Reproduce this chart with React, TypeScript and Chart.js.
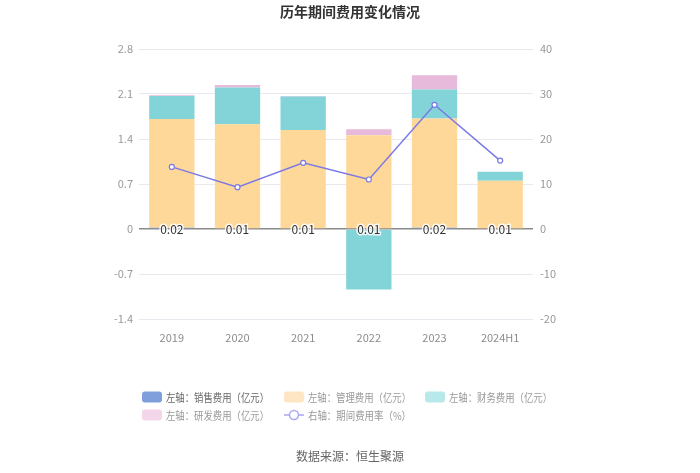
import React, { useEffect, useRef } from 'react';
import { Chart, registerables } from 'chart.js';
Chart.register(...registerables);

const categories = ['2019', '2020', '2021', '2022', '2023', '2024H1'];
const salesExpense = [0.02, 0.01, 0.01, 0.01, 0.02, 0.01];
const adminExpense = [1.69, 1.62, 1.53, 1.45, 1.7, 0.74];
const financeExpense = [0.36, 0.57, 0.52, -0.94, 0.45, 0.14];
const rdExpense = [0.01, 0.04, 0.01, 0.09, 0.22, 0.0];
const expenseRate = [13.8, 9.3, 14.7, 11.0, 27.6, 15.2];
const leftTickLabels = ['-1.4', '-0.7', '0', '0.7', '1.4', '2.1', '2.8'];
const rightTickLabels = ['-20', '-10', '0', '10', '20', '30', '40'];

const FONT = '"Noto Sans CJK SC", "Noto Sans", sans-serif';
const C_SALES = '#7e9fdb';
const C_ADMIN = '#fed898';
const C_FIN = '#83d4d8';
const C_RD = '#e7badb';
const C_LINE = '#7a79e6';

const leftVals = leftTickLabels.map(Number);
const rightVals = rightTickLabels.map(Number);

const overlayPlugin = {
  id: 'overlay',
  afterDatasetsDraw(chart: any) {
    const ctx = chart.ctx;
    const meta = chart.getDatasetMeta(0);
    const y0 = chart.scales.y.getPixelForValue(0);
    ctx.save();
    ctx.font = '12px ' + FONT;
    ctx.textAlign = 'center';
    ctx.textBaseline = 'middle';
    meta.data.forEach((bar: any, i: number) => {
      const t = salesExpense[i].toFixed(2);
      ctx.lineWidth = 3;
      ctx.strokeStyle = 'rgba(255,255,255,0.85)';
      ctx.strokeText(t, bar.x, y0);
      ctx.fillStyle = '#333';
      ctx.fillText(t, bar.x, y0);
    });
    ctx.restore();
  },
  afterDraw(chart: any) {
    const ctx = chart.ctx;
    ctx.save();
    ctx.textBaseline = 'middle';
    ctx.textAlign = 'center';
    ctx.fillStyle = '#333';
    ctx.font = 'bold 14px ' + FONT;
    ctx.fillText('历年期间费用变化情况', 350, 12);

    ctx.font = '12px ' + FONT;
    ctx.fillStyle = '#666';
    ctx.fillText('数据来源：恒生聚源', 350, 456);

    ctx.textAlign = 'left';
    ctx.font = '11px ' + FONT;
    const box = (x: number, y: number, color: string) => {
      ctx.fillStyle = color;
      ctx.beginPath();
      (ctx as any).roundRect(x, y - 5.5, 20, 11, 3);
      ctx.fill();
    };
    const items = [
      { x: 142, y: 397, color: C_SALES, text: '左轴：销售费用（亿元）', tc: '#666' },
      { x: 284, y: 397, color: '#fee5c3', text: '左轴：管理费用（亿元）', tc: '#999' },
      { x: 425, y: 397, color: '#b7e8ea', text: '左轴：财务费用（亿元）', tc: '#999' },
      { x: 142, y: 415, color: '#f3d6ea', text: '左轴：研发费用（亿元）', tc: '#999' },
    ];
    items.forEach((it) => {
      box(it.x, it.y, it.color);
      ctx.fillStyle = it.tc;
      ctx.fillText(it.text, it.x + 24, it.y + 0.5, 103);
    });
    // line legend
    ctx.strokeStyle = '#a9a8f0';
    ctx.lineWidth = 1.5;
    ctx.beginPath();
    ctx.moveTo(284, 415);
    ctx.lineTo(304, 415);
    ctx.stroke();
    ctx.beginPath();
    ctx.arc(294, 415, 4.5, 0, Math.PI * 2);
    ctx.fillStyle = '#fff';
    ctx.fill();
    ctx.stroke();
    ctx.fillStyle = '#999';
    ctx.fillText('右轴：期间费用率（%）', 308, 415.5, 103);
    ctx.restore();
  },
};

export default function App() {
  const ref = useRef<HTMLCanvasElement>(null);
  useEffect(() => {
    const chart = new Chart(ref.current as HTMLCanvasElement, {
      type: 'bar',
      data: {
        labels: categories,
        datasets: [
          { label: '左轴：销售费用（亿元）', data: salesExpense, backgroundColor: C_SALES, stack: 's', yAxisID: 'y', order: 2 },
          { label: '左轴：管理费用（亿元）', data: adminExpense, backgroundColor: C_ADMIN, stack: 's', yAxisID: 'y', order: 2 },
          { label: '左轴：财务费用（亿元）', data: financeExpense, backgroundColor: C_FIN, stack: 's', yAxisID: 'y', order: 2 },
          { label: '左轴：研发费用（亿元）', data: rdExpense, backgroundColor: C_RD, stack: 's', yAxisID: 'y', order: 2 },
          {
            type: 'line',
            label: '右轴：期间费用率（%）',
            data: expenseRate,
            yAxisID: 'y1',
            borderColor: C_LINE,
            borderWidth: 1.5,
            pointRadius: 2.5,
            pointBorderWidth: 1.2,
            pointBackgroundColor: '#fff',
            pointBorderColor: C_LINE,
            tension: 0,
            order: 1,
          } as any,
        ],
      },
      options: {
        responsive: false,
        animation: false,
        layout: { padding: { top: 49, left: 0, right: 0, bottom: 0 } },
        plugins: { legend: { display: false }, title: { display: false }, tooltip: { enabled: false } },
        datasets: { bar: { categoryPercentage: 1, barPercentage: 0.69 } } as any,
        scales: {
          x: {
            stacked: true,
            grid: { display: false },
            border: { display: false },
            ticks: { color: '#8c8c8c', font: { size: 11, family: FONT }, padding: 4 },
            afterFit(scale: any) { scale.height = 154; },
          },
          y: {
            position: 'left',
            stacked: true,
            min: -1.4,
            max: 2.8,
            afterBuildTicks(scale: any) { scale.ticks = leftVals.map((v) => ({ value: v })); },
            ticks: {
              color: '#999',
              font: { size: 11, family: FONT },
              padding: 6,
              callback: (v: any) => leftTickLabels[leftVals.indexOf(Number(v))] ?? '',
            },
            grid: {
              drawTicks: false,
              color: (c: any) => (c.tick && c.tick.value === 0 ? '#8a8a8a' : '#e9e9ef'),
              lineWidth: (c: any) => (c.tick && c.tick.value === 0 ? 1.5 : 1),
            },
            border: { display: false },
            afterFit(scale: any) { scale.width = 139; },
          },
          y1: {
            position: 'right',
            min: -20,
            max: 40,
            afterBuildTicks(scale: any) { scale.ticks = rightVals.map((v) => ({ value: v })); },
            ticks: {
              color: '#999',
              font: { size: 11, family: FONT },
              padding: 7,
              callback: (v: any) => rightTickLabels[rightVals.indexOf(Number(v))] ?? '',
            },
            grid: { display: false, drawTicks: false },
            border: { display: false },
            afterFit(scale: any) { scale.width = 167; },
          },
        },
      } as any,
      plugins: [overlayPlugin],
    });
    return () => chart.destroy();
  }, []);
  return (
    <div style={{ position: 'absolute', left: 0, top: 0, width: 700, height: 473, background: '#fff' }}>
      <canvas ref={ref} width={700} height={473} style={{ width: 700, height: 473, display: 'block' }} />
    </div>
  );
}
